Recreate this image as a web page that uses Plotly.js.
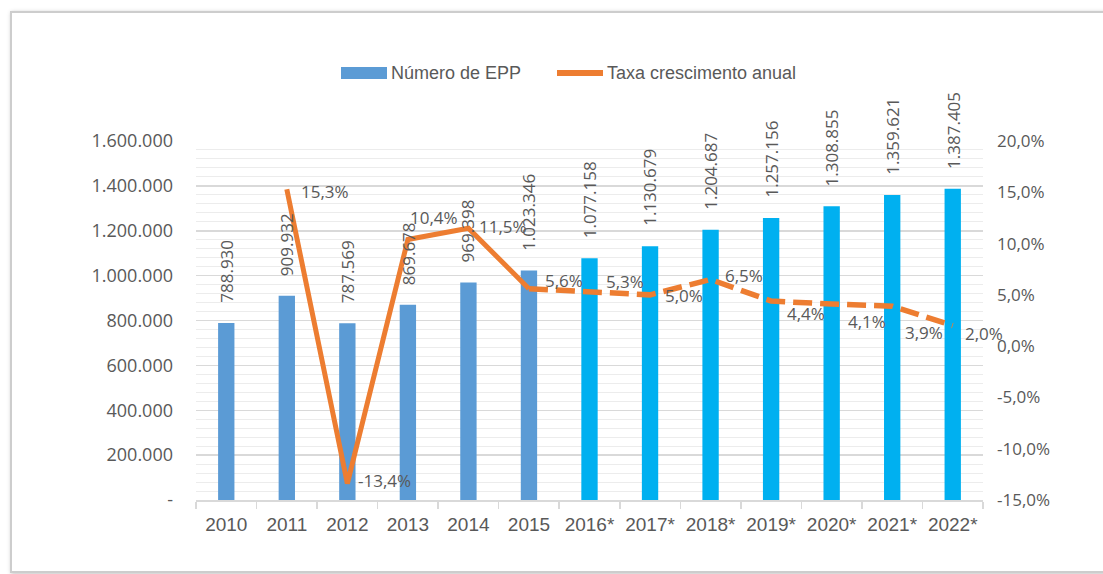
<!DOCTYPE html>
<html>
<head>
<meta charset="utf-8">
<script src="https://cdn.plot.ly/plotly-3.0.1.min.js"></script>
<style>
  html, body { margin: 0; padding: 0; background: #ffffff; width: 1103px; height: 574px; overflow: hidden; }
  #frame { position: absolute; left: 10px; top: 11px; width: 1120px; height: 558px;
           border: 2px solid #cdcdcd; box-shadow: 1px 1px 4px rgba(0,0,0,0.25); background: #fff; }
  #chart { position: absolute; left: 0; top: 0; width: 1103px; height: 574px; }
</style>
</head>
<body>
<div id="frame"></div>
<div id="chart"></div>
<script>
// ---- data ----
const years = ["2010","2011","2012","2013","2014","2015","2016*","2017*","2018*","2019*","2020*","2021*","2022*"];
const epp = [788930, 909932, 787569, 869678, 969398, 1023346, 1077158, 1130679, 1204687, 1257156, 1308855, 1359621, 1387405];
const growth = [null, 15.3, -13.4, 10.4, 11.5, 5.6, 5.3, 5.0, 6.5, 4.4, 4.1, 3.9, 2.0];
const leftTickVals = [0, 200000, 400000, 600000, 800000, 1000000, 1200000, 1400000, 1600000];
const leftTickText = ["-", "200.000", "400.000", "600.000", "800.000", "1.000.000", "1.200.000", "1.400.000", "1.600.000"];
const rightTickVals = [-15, -10, -5, 0, 5, 10, 15, 20];
const rightTickText = ["-15,0%", "-10,0%", "-5,0%", "0,0%", "5,0%", "10,0%", "15,0%", "20,0%"];
const legendNames = ["Número de EPP", "Taxa crescimento anual"];
const projectedFrom = 6; // index of first projected year (2016*)

// ---- styling ----
const colHist = "#5B9BD5", colProj = "#00B0F0", colLine = "#ED7D31", txt = "#595959";
const numFont = "Open Sans, DejaVu Sans, sans-serif";
const narrowFont = "Liberation Sans Narrow, Liberation Sans, Arial, sans-serif";
// per-point label offsets in px [xshift, yshift]
const growthLabelOffsets = [null, [12,-2],[9,3],[0,22],[9,2],[14,8],[14,10],[13,-1],[12,4],[14,-12],[14,-17],[11,-26],[10,-8]];

function fmtThousands(v) { return String(v).replace(/\B(?=(\d{3})+(?!\d))/g, "."); }
function fmtPct(v) { return v.toFixed(1).replace(".", ",") + "%"; }

const barColors = years.map((y, i) => i < projectedFrom ? colHist : colProj);

const traces = [
  { type: "bar", x: years, y: epp, marker: { color: barColors }, width: 0.27, yaxis: "y",
    hoverinfo: "skip", showlegend: false },
  { type: "scatter", mode: "lines", x: years.slice(1, projectedFrom), y: growth.slice(1, projectedFrom),
    yaxis: "y2", line: { color: colLine, width: 5 }, hoverinfo: "skip", showlegend: false },
  { type: "scatter", mode: "lines", x: years.slice(projectedFrom - 1), y: growth.slice(projectedFrom - 1),
    yaxis: "y2", line: { color: colLine, width: 5.5, dash: "19px,8px" }, hoverinfo: "skip", showlegend: false }
];

const annotations = [];
years.forEach((yr, i) => {
  annotations.push({ x: i, y: epp[i], xref: "x", yref: "y", text: fmtThousands(epp[i]),
    textangle: -90, showarrow: false, yanchor: "bottom", xanchor: "center", yshift: 18,
    font: { family: numFont, size: 17, color: txt } });
  if (growth[i] !== null) {
    const off = growthLabelOffsets[i];
    annotations.push({ x: i, y: growth[i], xref: "x", yref: "y2", text: fmtPct(growth[i]),
      showarrow: false, xanchor: "left", yanchor: "middle", xshift: off[0], yshift: off[1],
      font: { family: numFont, size: 17, color: txt } });
  }
});

// custom legend (paper coords)
const L = 196, W = 787, B = 500, H = 359;
const px = p => (p - L) / W, py = p => (B - p) / H;
const legY = 73;
annotations.push({ xref: "paper", yref: "paper", x: px(389), y: py(legY), xanchor: "left", yanchor: "middle",
  text: legendNames[0], showarrow: false, font: { family: narrowFont, size: 18, color: txt } });
annotations.push({ xref: "paper", yref: "paper", x: px(605), y: py(legY), xanchor: "left", yanchor: "middle",
  text: legendNames[1], showarrow: false, font: { family: narrowFont, size: 18, color: txt } });
const shapes = [
  { type: "rect", xref: "paper", yref: "paper", x0: px(341), x1: px(387), y0: py(legY + 6), y1: py(legY - 6),
    fillcolor: colHist, line: { width: 0 } },
  { type: "line", xref: "paper", yref: "paper", x0: px(557), x1: px(603), y0: py(legY), y1: py(legY),
    line: { color: colLine, width: 6 } }
];

const layout = {
  width: 1103, height: 574,
  margin: { l: 196, r: 120, t: 141, b: 74 },
  paper_bgcolor: "rgba(0,0,0,0)", plot_bgcolor: "rgba(0,0,0,0)",
  showlegend: false,
  xaxis: { type: "category", range: [-0.5, years.length - 0.5], autorange: false,
    showgrid: false, showline: true, linecolor: "#d9d9d9", linewidth: 1.5,
    ticks: "outside", tickson: "boundaries", ticklen: 7, tickcolor: "#d9d9d9", tickwidth: 1.5,
    tickangle: 0,
    tickfont: { family: narrowFont, size: 19, color: txt }, ticklabelstandoff: 7, zeroline: false },
  yaxis: { range: [0, 1600000], autorange: false, tickvals: leftTickVals, ticktext: leftTickText, showgrid: true,
    gridcolor: "#d9d9d9", gridwidth: 1.5, zeroline: false, ticks: "",
    minor: { dtick: 40000, showgrid: true, gridcolor: "#ececec", gridwidth: 1 },
    tickfont: { family: numFont, size: 18, color: txt }, ticklabelstandoff: 22 },
  yaxis2: { range: [-15, 20], autorange: false, overlaying: "y", side: "right", tickvals: rightTickVals, ticktext: rightTickText,
    showgrid: false, zeroline: false, ticks: "",
    tickfont: { family: numFont, size: 17, color: txt }, ticklabelstandoff: 13 },
  annotations: annotations,
  shapes: shapes
};

Plotly.newPlot("chart", traces, layout, { displayModeBar: false, staticPlot: true });
</script>
</body>
</html>
